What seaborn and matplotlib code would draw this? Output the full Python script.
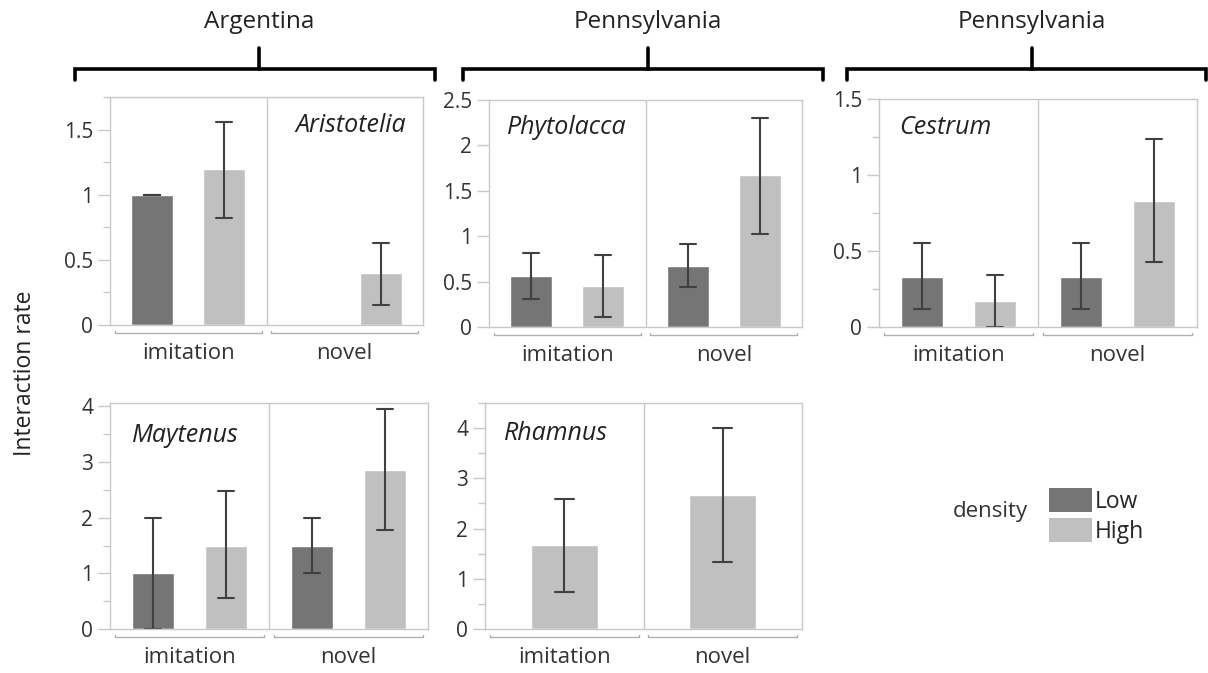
import numpy as np
import pandas as pd
import matplotlib
matplotlib.use("Agg")
import matplotlib.pyplot as plt
import seaborn as sns
from matplotlib.lines import Line2D
from matplotlib.patches import Patch

# ---------------- data ----------------
behaviors = ["imitation", "novel"]
densities = ["Low", "High"]
# order of bars: Low-imitation, High-imitation, Low-novel, High-novel  (nan = no bar)
aristotelia_mean = [1.00, 1.20, np.nan, 0.40]
aristotelia_lo = [1.00, 0.82, np.nan, 0.15]
aristotelia_hi = [1.00, 1.56, np.nan, 0.63]

phytolacca_mean = [0.56, 0.45, 0.67, 1.67]
phytolacca_lo = [0.31, 0.11, 0.44, 1.02]
phytolacca_hi = [0.81, 0.79, 0.91, 2.30]

cestrum_mean = [0.33, 0.17, 0.33, 0.83]
cestrum_lo = [0.12, 0.00, 0.12, 0.43]
cestrum_hi = [0.55, 0.34, 0.55, 1.24]

maytenus_mean = [1.00, 1.50, 1.50, 2.85]
maytenus_lo = [0.00, 0.55, 1.00, 1.78]
maytenus_hi = [2.00, 2.48, 2.00, 3.95]

# Rhamnus: only High density observed (imitation, novel)
rhamnus_mean = [1.67, 2.67]
rhamnus_lo = [0.74, 1.33]
rhamnus_hi = [2.59, 4.00]

regions = ["Argentina", "Pennsylvania", "Pennsylvania"]
y_label = "Interaction rate"
legend_title = "density"

# ---------------- style ----------------
sns.set_theme(style="white")
plt.rcParams["font.family"] = ["Open Sans", "DejaVu Sans"]

C_LOW = "#757575"
C_HIGH = "#c0c0c0"
C_ERR = "#404040"
C_FRAME = "#c8c8c8"
C_TXT = "#333333"

W, H = 1208, 673
fig = plt.figure(figsize=(W / 100, H / 100), dpi=100)


def fx(x):
    return x / W


def fy(y):
    return 1 - y / H


def ax_at(l, t, r, b):
    return fig.add_axes([l / W, 1 - b / H, (r - l) / W, (b - t) / H])


def long_frame(mean, lo, hi):
    rows = []
    combos = [(b, d) for b in behaviors for d in densities]
    for (b, d), m, l, h in zip(combos, mean, lo, hi):
        if np.isnan(m):
            continue
        for v in (l, m, h):
            rows.append({"behavior": b, "density": d, "value": v})
    return pd.DataFrame(rows)


def range_err(v):
    return (np.min(v), np.max(v))


def style_axes(ax, ylim, major, minor):
    ax.set_xlim(-0.5, 1.5)
    ax.set_ylim(*ylim)
    ax.set_yticks(major)
    ax.set_yticklabels([("%g" % t) for t in major])
    if minor is not None:
        ax.set_yticks(minor, minor=True)
    ax.tick_params(axis="y", which="major", left=True, length=9, width=1,
                   color=C_FRAME, labelsize=15, labelcolor=C_TXT, pad=3)
    ax.tick_params(axis="y", which="minor", left=True, length=5, width=1,
                   color=C_FRAME)
    ax.set_xticks([])
    ax.set_xlabel("")
    ax.set_ylabel("")
    for s in ax.spines.values():
        s.set_color(C_FRAME)
        s.set_linewidth(1.0)
    ax.axvline(0.5, color=C_FRAME, lw=1.0)
    # category brackets below the axes
    tr = ax.get_xaxis_transform()
    for i, lab in enumerate(behaviors):
        x0, x1 = i - 0.47, i + 0.47
        ax.plot([x0, x0, x1, x1], [-0.025, -0.037, -0.037, -0.025],
                transform=tr, color="#b0b0b0", lw=1.0, clip_on=False)
        ax.text(i, -0.125, lab, transform=tr, ha="center", va="center",
                fontsize=16, color=C_TXT)


def dodge_bars(ax, mean, lo, hi):
    df = long_frame(mean, lo, hi)
    sns.barplot(data=df, x="behavior", y="value", hue="density",
                order=behaviors, hue_order=densities,
                palette=[C_LOW, C_HIGH], estimator="median",
                errorbar=range_err, width=0.92, gap=0.42,
                capsize=0.2, err_kws={"color": C_ERR, "linewidth": 1.5},
                legend=False, ax=ax, saturation=1)


SP = dict(style="italic", fontsize=18, va="center", color="#222222")

# ---- panel 1: Aristotelia ----
ax1 = ax_at(110, 97, 423, 325)
dodge_bars(ax1, aristotelia_mean, aristotelia_lo, aristotelia_hi)
style_axes(ax1, (0, 1.75), [0, 0.5, 1, 1.5], np.arange(0, 1.76, 0.25))
fig.text(fx(406), fy(125), "Aristotelia", ha="right", **SP)

# ---- panel 2: Phytolacca ----
ax2 = ax_at(489, 100, 802, 327)
dodge_bars(ax2, phytolacca_mean, phytolacca_lo, phytolacca_hi)
style_axes(ax2, (0, 2.5), [0, 0.5, 1, 1.5, 2, 2.5], None)
fig.text(fx(507), fy(128), "Phytolacca", ha="left", **SP)

# ---- panel 3: Cestrum ----
ax3 = ax_at(879, 99, 1197, 327)
dodge_bars(ax3, cestrum_mean, cestrum_lo, cestrum_hi)
style_axes(ax3, (0, 1.5), [0, 0.5, 1, 1.5], np.arange(0, 1.51, 0.25))
fig.text(fx(899), fy(128), "Cestrum", ha="left", **SP)

# ---- panel 4: Maytenus ----
ax4 = ax_at(110, 403, 428, 629)
dodge_bars(ax4, maytenus_mean, maytenus_lo, maytenus_hi)
style_axes(ax4, (0, 4.06), [0, 1, 2, 3, 4], np.arange(0, 4.01, 0.5))
fig.text(fx(132), fy(435), "Maytenus", ha="left", **SP)

# ---- panel 5: Rhamnus ----
ax5 = ax_at(485, 403, 802, 629)
rows = []
for b, m, l, h in zip(behaviors, rhamnus_mean, rhamnus_lo, rhamnus_hi):
    for v in (l, m, h):
        rows.append({"behavior": b, "value": v})
df5 = pd.DataFrame(rows)
sns.barplot(data=df5, x="behavior", y="value", order=behaviors,
            color=C_HIGH, estimator="median", errorbar=range_err,
            width=0.42, capsize=0.12, saturation=1,
            err_kws={"color": C_ERR, "linewidth": 1.5}, ax=ax5)
style_axes(ax5, (0, 4.5), [0, 1, 2, 3, 4], np.arange(0, 4.51, 0.5))
fig.text(fx(504), fy(433), "Rhamnus", ha="left", **SP)

# ---------------- header brackets ----------------
brackets = [(75, 435, 259), (463, 823, 648), (847, 1206, 1032)]
for (x0, x1, xc), name in zip(brackets, regions):
    fig.add_artist(Line2D([fx(x0), fx(x0), fx(x1), fx(x1)],
                          [fy(80), fy(69), fy(69), fy(80)],
                          color="black", lw=2.6, solid_joinstyle="miter"))
    fig.add_artist(Line2D([fx(xc), fx(xc)], [fy(69), fy(48)],
                          color="black", lw=2.6))
    fig.text(fx(xc), fy(22), name, ha="center", va="center", fontsize=17.5,
             color="#222222")

# ---------------- y label ----------------
fig.text(fx(25), fy(373), y_label, rotation=90, ha="center", va="center",
         fontsize=16.5, color="#222222")

# ---------------- legend ----------------
handles = [Patch(facecolor=C_LOW, edgecolor="none", label="Low"),
           Patch(facecolor=C_HIGH, edgecolor="none", label="High")]
fig.legend(handles=handles, loc="upper left", bbox_to_anchor=(fx(1040), fy(479)),
           frameon=False, fontsize=16.5, handlelength=1.85, handleheight=1.2,
           handletextpad=0.15, labelspacing=0.2, borderaxespad=0)
fig.text(fx(990), fy(511), legend_title, ha="center", va="center",
         fontsize=16, color=C_TXT)

fig.savefig("out.png", dpi=100, facecolor="white")
